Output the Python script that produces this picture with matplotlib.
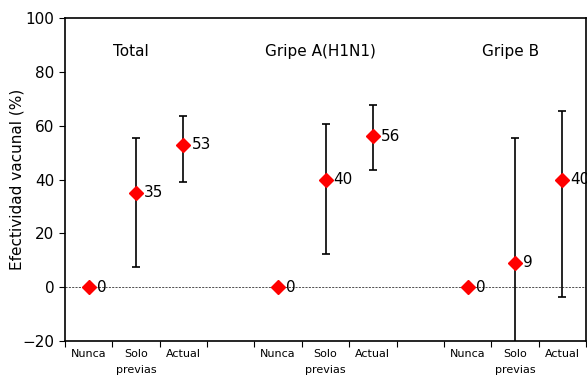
import numpy as np
import matplotlib.pyplot as plt

# Vaccine effectiveness by prior vaccination, three groups
groups = ['Total', 'Gripe A(H1N1)', 'Gripe B']
categories = ['Nunca', 'Solo\nprevias', 'Actual']
effect = [[0, 35, 53], [0, 40, 56], [0, 9, 40]]
ci_low = [[0, 7.5, 39], [0, 12.5, 43.5], [0, -30, -3.5]]
ci_high = [[0, 55.5, 63.5], [0, 60.5, 67.5], [0, 55.5, 65.5]]

fig = plt.figure(figsize=(5.87, 3.79), dpi=100)
ax = fig.add_axes([65 / 587, 38 / 379, 521 / 587, 323 / 379])

xlabels = []
xpos = []
for g, name in enumerate(groups):
    x = np.arange(3) + 4 * g + 0.5
    y = np.array(effect[g], dtype=float)
    lo = y - np.array(ci_low[g])
    hi = np.array(ci_high[g]) - y
    # the reference group (Nunca) has no interval
    ax.errorbar(x[1:], y[1:], yerr=[lo[1:], hi[1:]], fmt='none',
                ecolor='black', elinewidth=1.2, capsize=3, capthick=1.2, zorder=2)
    ax.plot(x, y, linestyle='none', marker='D', color='#ff0000',
            markersize=7.5, zorder=3)
    for xi, yi in zip(x, y):
        ax.text(xi + 0.17, yi, f'{yi:g}', ha='left', va='center', fontsize=11)
    ax.text(4 * g + 1.4, 87.5, name, ha='center', va='center', fontsize=11)
    xpos.extend(x)
    xlabels.extend(categories)

ax.axhline(0, color='#333333', linestyle=(0, (2.5, 1.5)), linewidth=0.6, zorder=1)

ax.set_xlim(0, 11)
ax.set_ylim(-20, 100)
ax.set_yticks(np.arange(-20, 101, 20))
ax.set_xticks(np.arange(0, 12))
ax.set_xticklabels([])
ax.set_xticks(xpos, minor=True)
ax.set_xticklabels(xlabels, minor=True, fontsize=8, linespacing=1.7)
ax.tick_params(axis='x', which='minor', length=0, pad=6)
ax.tick_params(axis='x', which='major', length=4, direction='out')
ax.tick_params(axis='y', length=4, labelsize=11)
ax.set_ylabel('Efectividad vacunal (%)', fontsize=11)
ax.yaxis.set_label_coords(-0.077, 0.5)
for s in ax.spines.values():
    s.set_linewidth(1.2)

fig.savefig('out.png', dpi=100)
